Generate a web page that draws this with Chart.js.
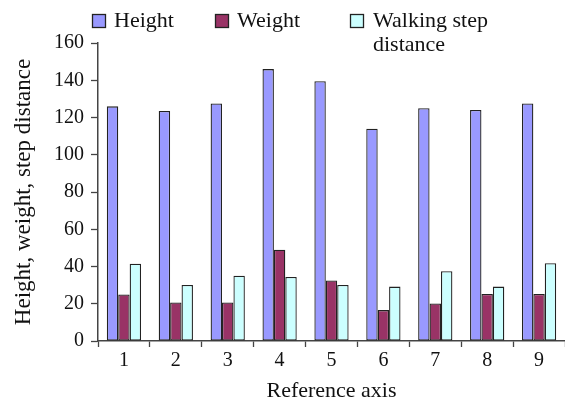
<!DOCTYPE html>
<html>
<head>
<meta charset="utf-8">
<script src="https://cdn.jsdelivr.net/npm/chart.js@4/dist/chart.umd.min.js"></script>
<style>
html,body{margin:0;padding:0;background:#fff;}
#wrap{width:565px;height:404px;position:relative;}
</style>
</head>
<body>
<div id="wrap"><canvas id="c" width="565" height="404"></canvas></div>
<script>
const categories = ['1','2','3','4','5','6','7','8','9'];
const heightValues = [126, 123.5, 127.5, 146, 139.5, 114, 125, 124, 127.5];
const weightValues = [25, 20.7, 20.7, 49, 32.5, 16.6, 20.2, 25.2, 25.2];
const stepValues = [41.5, 30.1, 35.1, 34.4, 30.1, 29.2, 37.5, 29.2, 41.8];
const seriesNames = ['Height', 'Weight', 'Walking step distance'];
const yTickValues = [0, 20, 40, 60, 80, 100, 120, 140, 160];
const xAxisTitle = 'Reference axis';
const yAxisTitle = 'Height, weight, step distance';

const colors = ['#9999FF', '#993366', '#CCFFFF'];
const FONT = '"Liberation Serif", "Times New Roman", serif';
const TEXT = '#111111';

const legendPlugin = {
  id: 'customLegend',
  afterDraw(chart) {
    const ctx = chart.ctx;
    const xs = [[92, 114], [215, 237], [350, 373]];
    ctx.save();
    ctx.font = '22px ' + FONT;
    ctx.textBaseline = 'middle';
    chart.data.datasets.forEach((ds, i) => {
      const [bx, tx] = xs[i];
      ctx.fillStyle = ds.backgroundColor;
      ctx.fillRect(bx, 14, 14, 14);
      ctx.strokeStyle = '#222';
      ctx.lineWidth = 1.3;
      ctx.strokeRect(bx + 0.5, 14.5, 13, 13);
      const maxW = 150;
      const words = ds.label.split(' ');
      const lines = [];
      let cur = '';
      words.forEach(w => {
        const t = cur ? cur + ' ' + w : w;
        if (ctx.measureText(t).width > maxW && cur) { lines.push(cur); cur = w; }
        else cur = t;
      });
      lines.push(cur);
      ctx.fillStyle = TEXT;
      ctx.textAlign = 'left';
      lines.forEach((l, k) => {
        ctx.fillText(l, tx, 21 + k * 24);
      });
    });
    ctx.restore();
  }
};

new Chart(document.getElementById('c'), {
  type: 'bar',
  data: {
    labels: categories,
    datasets: [
      { label: seriesNames[0], data: heightValues, backgroundColor: colors[0] },
      { label: seriesNames[1], data: weightValues, backgroundColor: colors[1] },
      { label: seriesNames[2], data: stepValues, backgroundColor: colors[2] }
    ].map(d => Object.assign(d, { borderColor: '#222', borderWidth: 1.3, borderSkipped: false,
      categoryPercentage: 0.66, barPercentage: 1.0 }))
  },
  options: {
    responsive: false,
    animation: false,
    devicePixelRatio: 1,
    layout: { padding: { top: 43, right: 0, left: 0, bottom: 0 } },
    plugins: { legend: { display: false }, tooltip: { enabled: false } },
    scales: {
      x: {
        grid: { display: true, offset: true, drawOnChartArea: false, drawTicks: true, tickLength: 6, color: '#444', tickWidth: 1.3 },
        border: { display: true, color: '#444', width: 1.5 },
        ticks: { color: TEXT, font: { family: FONT, size: 20 }, padding: 2, maxRotation: 0 },
        title: { display: true, text: xAxisTitle, color: TEXT, font: { family: FONT, size: 22 }, padding: { top: 8, bottom: 0 } },
        afterFit(scale) { scale.height = 63; }
      },
      y: {
        min: 0, max: 160,
        afterBuildTicks(scale) { scale.ticks = yTickValues.map(v => ({ value: v })); },
        grid: { display: true, drawOnChartArea: false, drawTicks: true, tickLength: 7, color: '#444', tickWidth: 1.3 },
        border: { display: true, color: '#444', width: 1.5 },
        ticks: { color: TEXT, font: { family: FONT, size: 20 }, padding: 7 },
        title: { display: true, text: yAxisTitle, color: TEXT, font: { family: FONT, size: 23 }, padding: { top: 10, bottom: 0 } },
        afterFit(scale) { scale.width = 98; }
      }
    }
  },
  plugins: [legendPlugin]
});
</script>
</body>
</html>
